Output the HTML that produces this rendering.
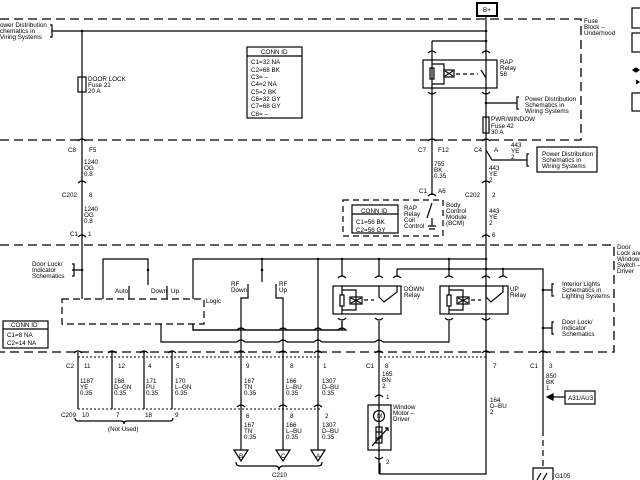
<!DOCTYPE html>
<html><head><meta charset="utf-8"><style>
html,body{margin:0;padding:0;background:#fff;width:640px;height:480px;overflow:hidden}
svg{display:block}
text{font-family:"Liberation Sans",Arial,sans-serif;font-size:6.3px;fill:#000}
</style></head><body>
<svg width="640" height="480" viewBox="0 0 640 480" xmlns="http://www.w3.org/2000/svg">
<defs>
<g id="cup"><path d="M-4,-2 Q0,-6 4,-2" fill="none" stroke="#000" stroke-width="1.2"/></g>
<g id="cdn"><path d="M-4,2 Q0,6 4,2" fill="none" stroke="#000" stroke-width="1.2"/></g>
</defs>
<g fill="none" stroke="#000" stroke-width="1.2">
<!-- fuse block dashed -->
<path d="M0,19 H581 V140 H0" stroke-dasharray="9,5" stroke-width="1.3"/>
<!-- switch area dashed -->
<path d="M0,245 H614 V352 H0" stroke-dasharray="9,5" stroke-width="1.3"/>
<!-- B+ -->
<rect x="477" y="3" width="20" height="13" stroke-width="2"/>
<path d="M486,16 V474 H380 V463"/>
<path d="M52,31 H486"/>
<path d="M50,25 H52 V37 H50"/>
<!-- door lock wire -->
<path d="M82,31 V299"/>
<rect x="78" y="77" width="8" height="15"/>
<!-- conn id -->
<rect x="247" y="47" width="55" height="71"/>
<path d="M247,56 H302"/>
<!-- RAP relay -->
<path d="M432,41 H486"/>
<path d="M432,41 V195"/>
<rect x="423" y="60" width="74" height="28"/>
<rect x="430" y="68" width="4" height="11"/>
<path d="M432,64 H444 V84 H432"/>
<rect x="444" y="70" width="10" height="7"/>
<path d="M445,71 L453,76 M453,71 L445,76"/>
<path d="M456,74 H478" stroke-dasharray="4,3"/>
<path d="M481,70 L486,78"/>
<path d="M486,103 H517"/>
<path d="M519,97 H517 V109 H519"/>
<rect x="483" y="117" width="6" height="16"/>
<path d="M486,150 L492,160 H527"/>
<path d="M529,154 H527 V166 H529"/>
<rect x="537" y="147" width="60" height="25"/>
<!-- BCM -->
<path d="M343,200 H443 V236 H343 Z" stroke-dasharray="6,4"/>
<rect x="352" y="205" width="46" height="28"/>
<path d="M352,214 H398"/>
<path d="M432,203 L427,218 M432,218 V226 M428,226 H436 M429,229 H435"/>
<!-- switch internals -->
<path d="M62,299 H204 V324 H62 Z" stroke-dasharray="7,4"/>
<path d="M72,270 H82 M72,264 H74 V276 H72"/>
<path d="M103,299 V259 H148 V285"/>
<path d="M129,286 V299 M167,286 V299"/>
<path d="M193,299 V259 H486"/>
<path d="M262,259 V282"/>
<path d="M248,284 V298 H241 V450"/>
<path d="M276,284 V298 H283 V450"/>
<path d="M318,259 V450"/>
<path d="M193,324 V330 H338 Q342,326 346,330 H342 M342,330 V321"/>
<path d="M161,324 V342 H237 Q241,338 245,342 H279 Q283,338 287,342 H314 Q318,338 322,342 H375 Q379,338 383,342 H449 V321"/>
<path d="M193,324 V330 H237 Q241,326 245,330 H279 Q283,326 287,330 H314 Q318,326 322,330 H342"/>
<!-- DOWN relay -->
<path d="M342,259 V276 M379,259 V276 M397,269 V276 M397,269 H543 V430"/>
<path d="M543,430 V470" stroke-dasharray="6,4"/>
<rect x="333" y="286" width="68" height="28"/>
<rect x="340" y="295" width="4" height="11"/>
<path d="M342,290 H356 V310 H342 M342,286 V295 M342,306 V314"/>
<rect x="350" y="297" width="12" height="7"/>
<path d="M351,298 L361,303 M361,298 L351,303"/>
<path d="M364,300 H374" stroke-dasharray="4,3"/>
<path d="M379,286 V297 L384,302 L397,292 V286"/>
<path d="M342,321 V330 M379,321 V474"/>
<!-- UP relay -->
<path d="M449,259 V276 M503,269 V276"/>
<rect x="440" y="286" width="68" height="28"/>
<rect x="447" y="295" width="4" height="11"/>
<path d="M449,290 H463 V310 H449 M449,286 V295 M449,306 V314"/>
<rect x="457" y="297" width="12" height="7"/>
<path d="M458,298 L468,303 M468,298 L458,303"/>
<path d="M471,300 H481" stroke-dasharray="4,3"/>
<path d="M486,286 V297 L491,302 L503,292 V286"/>
<!-- right brackets -->
<path d="M543,290 H552 M554,284 H552 V296 H554"/>
<path d="M543,328 H552 M554,322 H552 V334 H554"/>
<!-- conn id left -->
<rect x="3" y="321" width="45" height="27"/>
<path d="M3,329 H48"/>
<!-- C2 wires -->
<path d="M78,352 V409 M112,352 V409 M144,352 V409 M172,352 V409"/>
<path d="M78,357 H320 M380,357 H486 M78,409 H320" stroke-dasharray="2,2" stroke-width="1"/>
<path d="M75,418 Q75,421 78,421 H121 Q124,421 124,424 Q124,421 127,421 H170 Q173,421 173,418"/>
<path d="M236,462 Q236,466 240,466 H275 Q279,466 279,470 Q279,466 283,466 H318 Q322,466 322,462"/>
<!-- triangles -->
<path d="M234,450 H248 L241,461 Z M276,450 H290 L283,461 Z M311,450 H325 L318,461 Z"/>
<!-- motor -->
<rect x="368" y="405" width="23" height="45"/>
<circle cx="379" cy="416" r="5.5"/>
<rect x="376" y="427" width="6" height="16"/>
<path d="M376,432 H382 M376,438 H382 M372,446 L388,428 M385,428 H388 V431"/>
<!-- A31 -->
<rect x="565" y="391" width="30" height="13"/>
<path d="M565,397 H550"/>
<path d="M547,397 L553,394 V400 Z" fill="#000"/>
<!-- ground -->
<path d="M533,480 V468 H553 V480 M537,480 L541,473 M543,480 L547,473"/>
<!-- right edge partial -->
<rect x="632" y="8" width="12" height="20"/>
<rect x="632" y="33" width="12" height="19"/>
<rect x="632" y="93" width="12" height="18"/>
<path d="M636,68 l3,2 -3,2 -3,-2z M636,80 l3,2 -3,2" fill="#000"/>
</g>
<!-- connectors -->
<g>
<use href="#cup" x="82" y="143"/><use href="#cup" x="82" y="185"/><use href="#cup" x="82" y="239"/>
<use href="#cup" x="432" y="55"/><use href="#cup" x="486" y="55"/>
<use href="#cdn" x="432" y="90"/><use href="#cdn" x="486" y="90"/>
<use href="#cup" x="432" y="143"/><use href="#cup" x="486" y="143"/>
<use href="#cup" x="432" y="198"/><use href="#cup" x="486" y="185"/><use href="#cup" x="486" y="239"/>
<use href="#cup" x="342" y="280"/><use href="#cup" x="379" y="280"/><use href="#cup" x="397" y="280"/>
<use href="#cup" x="449" y="280"/><use href="#cup" x="486" y="280"/><use href="#cup" x="503" y="280"/>
<use href="#cdn" x="342" y="316"/><use href="#cdn" x="379" y="316"/>
<use href="#cdn" x="449" y="316"/><use href="#cdn" x="486" y="316"/>
<use href="#cup" x="78" y="355"/><use href="#cup" x="112" y="355"/><use href="#cup" x="144" y="355"/><use href="#cup" x="172" y="355"/>
<use href="#cup" x="241" y="355"/><use href="#cup" x="283" y="355"/><use href="#cup" x="318" y="355"/>
<use href="#cup" x="379" y="355"/><use href="#cup" x="486" y="355"/><use href="#cup" x="543" y="355"/>
<use href="#cup" x="241" y="409"/><use href="#cup" x="283" y="409"/><use href="#cup" x="318" y="409"/>
<use href="#cup" x="379" y="399"/><use href="#cdn" x="379" y="455"/>
</g>
<g fill="#000">
<circle cx="82" cy="31" r="1.3"/><circle cx="486" cy="31" r="1.3"/><circle cx="486" cy="41" r="1.3"/><circle cx="486" cy="103" r="1.3"/>
<circle cx="82" cy="270" r="1.3"/><circle cx="148" cy="270" r="1.3"/><circle cx="262" cy="259" r="1.3"/><circle cx="262" cy="270" r="1.3"/>
<circle cx="318" cy="259" r="1.3"/><circle cx="342" cy="259" r="1.3"/><circle cx="379" cy="259" r="1.3"/><circle cx="449" cy="259" r="1.3"/><circle cx="486" cy="259" r="1.3"/>
<circle cx="449" cy="269" r="1.3"/><circle cx="486" cy="269" r="1.3"/><circle cx="503" cy="269" r="1.3"/>
<circle cx="543" cy="290" r="1.3"/><circle cx="543" cy="328" r="1.3"/>
</g>
<!-- text -->
<text x="0" y="27">ower Distribution</text><text x="0" y="33">chematics in</text><text x="0" y="39">Viring Systems</text>
<text x="88" y="81">DOOR LOCK</text><text x="88" y="87">Fuse 21</text><text x="88" y="93">20 A</text>
<text x="261" y="54">CONN ID</text>
<text x="251" y="64">C1=32 NA</text><text x="251" y="72">C2=68 BK</text><text x="251" y="79">C3= –</text><text x="251" y="86">C4=2 NA</text><text x="251" y="94">C5=2 BK</text><text x="251" y="101">C6=32 GY</text><text x="251" y="108">C7=68 GY</text><text x="251" y="116">C8= –</text>
<text x="483" y="12" font-size="6">B+</text>
<text x="584" y="23">Fuse</text><text x="584" y="29">Block –</text><text x="584" y="35">Underhood</text>
<text x="500" y="64">RAP</text><text x="500" y="70">Relay</text><text x="500" y="76">58</text>
<text x="525" y="101">Power Distribution</text><text x="525" y="107">Schematics in</text><text x="525" y="113">Wiring Systems</text>
<text x="491" y="121">PWR/WINDOW</text><text x="491" y="128">Fuse 42</text><text x="491" y="134">30 A</text>
<text x="68" y="152">C8</text><text x="89" y="152">F5</text>
<text x="84" y="164">1240</text><text x="84" y="170">OG</text><text x="84" y="176">0.8</text>
<text x="62" y="197">C202</text><text x="89" y="197">8</text>
<text x="84" y="211">1240</text><text x="84" y="217">OG</text><text x="84" y="223">0.8</text>
<text x="70" y="236">C1</text><text x="88" y="236">1</text>
<text x="418" y="152">C7</text><text x="438" y="152">F12</text>
<text x="434" y="166">755</text><text x="434" y="172">BK</text><text x="434" y="178">0.35</text>
<text x="419" y="193">C1</text><text x="438" y="193">A6</text>
<text x="474" y="152">C4</text><text x="494" y="152">A</text>
<text x="511" y="147">443</text><text x="511" y="153">YE</text><text x="511" y="159">2</text>
<text x="542" y="156">Power Distribution</text><text x="542" y="162">Schematics in</text><text x="542" y="168">Wiring Systems</text>
<text x="489" y="170">443</text><text x="489" y="176">YE</text><text x="489" y="182">2</text>
<text x="465" y="197">C202</text><text x="492" y="197">2</text>
<text x="489" y="213">443</text><text x="489" y="219">YE</text><text x="489" y="225">2</text>
<text x="492" y="237">6</text>
<text x="361" y="213">CONN ID</text><text x="356" y="224">C1=56 BK</text><text x="356" y="232">C2=56 GY</text>
<text x="404" y="210">RAP</text><text x="404" y="216">Relay</text><text x="404" y="222">Coil</text><text x="404" y="228">Control</text>
<text x="446" y="207">Body</text><text x="446" y="213">Control</text><text x="446" y="219">Module</text><text x="446" y="225">(BCM)</text>
<text x="32" y="266">Door Lock/</text><text x="32" y="272">Indicator</text><text x="32" y="278">Schematics</text>
<text x="115" y="293">Auto</text><text x="151" y="293">Down</text><text x="171" y="293">Up</text>
<text x="206" y="303">Logic</text>
<text x="231" y="286">RF</text><text x="231" y="292">Down</text>
<text x="279" y="286">RF</text><text x="279" y="292">Up</text>
<text x="404" y="291">DOWN</text><text x="404" y="297">Relay</text>
<text x="510" y="291">UP</text><text x="510" y="297">Relay</text>
<text x="562" y="286">Interior Lights</text><text x="562" y="292">Schematics in</text><text x="562" y="298">Lighting Systems</text>
<text x="562" y="324">Door Lock/</text><text x="562" y="330">Indicator</text><text x="562" y="336">Schematics</text>
<text x="617" y="249">Door</text><text x="617" y="255">Lock and</text><text x="617" y="261">Window</text><text x="617" y="267">Switch –</text><text x="617" y="273">Driver</text>
<text x="11" y="327">CONN ID</text><text x="7" y="337">C1=8 NA</text><text x="7" y="345">C2=14 NA</text>
<text x="66" y="368">C2</text><text x="84" y="368">11</text><text x="118" y="368">12</text><text x="148" y="368">4</text><text x="176" y="368">5</text>
<text x="80" y="383">1187</text><text x="80" y="389">YE</text><text x="80" y="395">0.35</text>
<text x="114" y="383">168</text><text x="114" y="389">D–GN</text><text x="114" y="395">0.35</text>
<text x="146" y="383">171</text><text x="146" y="389">PU</text><text x="146" y="395">0.35</text>
<text x="175" y="383">170</text><text x="175" y="389">L–GN</text><text x="175" y="395">0.35</text>
<text x="61" y="417">C209</text><text x="82" y="417">10</text><text x="116" y="417">7</text><text x="145" y="417">18</text><text x="175" y="417">9</text>
<text x="108" y="431">(Not Used)</text>
<text x="246" y="368">9</text><text x="290" y="368">8</text><text x="323" y="368">1</text>
<text x="244" y="383">167</text><text x="244" y="389">TN</text><text x="244" y="395">0.35</text>
<text x="286" y="383">166</text><text x="286" y="389">L–BU</text><text x="286" y="395">0.35</text>
<text x="322" y="383">1307</text><text x="322" y="389">D–BU</text><text x="322" y="395">0.35</text>
<text x="246" y="418">6</text><text x="290" y="418">8</text><text x="325" y="418">2</text>
<text x="244" y="427">167</text><text x="244" y="433">TN</text><text x="244" y="439">0.35</text>
<text x="286" y="427">166</text><text x="286" y="433">L–BU</text><text x="286" y="439">0.35</text>
<text x="322" y="427">1307</text><text x="322" y="433">D–BU</text><text x="322" y="439">0.35</text>
<text x="239" y="458">B</text><text x="281" y="458">C</text><text x="316" y="458">A</text>
<text x="272" y="477">C210</text>
<text x="366" y="368">C1</text><text x="385" y="368">8</text>
<text x="382" y="376">165</text><text x="382" y="382">BN</text><text x="382" y="388">2</text>
<text x="386" y="399">1</text>
<text x="377" y="418" font-size="5">M</text>
<text x="393" y="409">Window</text><text x="393" y="415">Motor –</text><text x="393" y="421">Driver</text>
<text x="386" y="464">2</text>
<text x="493" y="368">7</text>
<text x="490" y="402">164</text><text x="490" y="408">D–BU</text><text x="490" y="414">2</text>
<text x="530" y="368">C1</text><text x="549" y="368">3</text>
<text x="546" y="378">850</text><text x="546" y="384">BK</text><text x="546" y="390">1</text>
<text x="568" y="400">A31/AU3</text>
<text x="555" y="478">G105</text>
</svg>
</body></html>
